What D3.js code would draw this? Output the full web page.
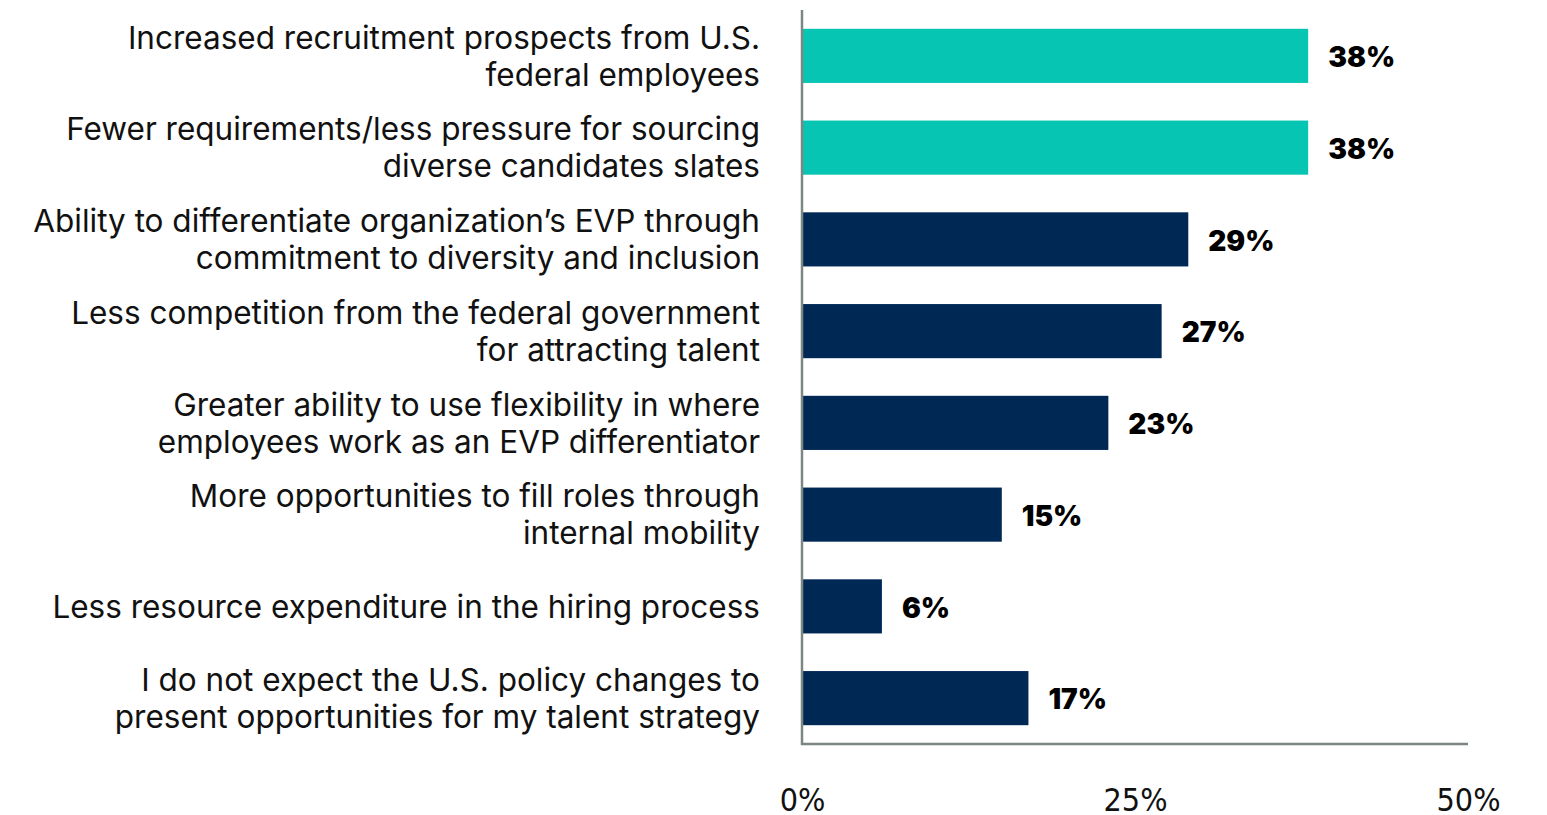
<!DOCTYPE html>
<html>
<head>
<meta charset="utf-8">
<script src="https://cdn.jsdelivr.net/npm/d3@7"></script>
<style>
  html, body { margin: 0; padding: 0; background: #fff; }
  svg { display: block; }
</style>
</head>
<body>
<svg id="chart" width="1547" height="815"></svg>
<script>
// Survey responses: expected talent-strategy opportunities
const categories = [
  ["Increased recruitment prospects from U.S.", "federal employees"],
  ["Fewer requirements/less pressure for sourcing", "diverse candidates slates"],
  ["Ability to differentiate organization\u2019s EVP through", "commitment to diversity and inclusion"],
  ["Less competition from the federal government", "for attracting talent"],
  ["Greater ability to use flexibility in where", "employees work as an EVP differentiator"],
  ["More opportunities to fill roles through", "internal mobility"],
  ["Less resource expenditure in the hiring process"],
  ["I do not expect the U.S. policy changes to", "present opportunities for my talent strategy"]
];
const values = [38, 38, 29, 27, 23, 15, 6, 17];
const highlighted = [true, true, false, false, false, false, false, false];
const tickValues = [0, 25, 50];

const svg = d3.select("#chart");
const plotLeft = 802, plotRight = 1468, plotTop = 10, plotBottom = 744;

const x = d3.scaleLinear().domain([0, 50]).range([plotLeft, plotRight]);
const y = d3.scaleBand()
  .domain(d3.range(categories.length))
  .range([plotTop, plotBottom])
  .paddingInner(0.41)
  .paddingOuter(0.205);

// bars
svg.append("g").selectAll("rect")
  .data(values)
  .join("rect")
  .attr("x", x(0))
  .attr("y", (d, i) => y(i))
  .attr("width", d => x(d) - x(0))
  .attr("height", y.bandwidth())
  .attr("fill", (d, i) => highlighted[i] ? "#06C5B3" : "#002855");

// value labels
svg.append("g").selectAll("text")
  .data(values)
  .join("text")
  .attr("x", d => x(d) + 20)
  .attr("y", (d, i) => y(i) + y.bandwidth() / 2)
  .attr("dy", "0.4em")
  .attr("font-family", "Inter, sans-serif")
  .attr("font-weight", 900)
  .attr("font-size", 28)
  .attr("fill", "#000")
  .text(d => d + "%");

// category labels (one tspan per line, right-aligned)
const lineH = 37;
svg.append("g").selectAll("text")
  .data(categories)
  .join("text")
  .attr("text-anchor", "end")
  .attr("font-family", "Inter, sans-serif")
  .attr("font-size", 31.5)
  .attr("fill", "#111")
  .each(function(d, i) {
    const t = d3.select(this);
    const y0 = y(i) + y.bandwidth() / 2 - (d.length - 1) * lineH / 2;
    d.forEach((line, k) => {
      t.append("tspan")
        .attr("x", 760)
        .attr("y", y0 + k * lineH)
        .attr("dy", "0.36em")
        .text(line);
    });
  });

// axes
const axisColor = "#7d8683";
svg.append("line")
  .attr("x1", plotLeft).attr("x2", plotLeft)
  .attr("y1", plotTop).attr("y2", plotBottom + 1)
  .attr("stroke", axisColor).attr("stroke-width", 2.5);
svg.append("line")
  .attr("x1", plotLeft - 1).attr("x2", plotRight)
  .attr("y1", plotBottom).attr("y2", plotBottom)
  .attr("stroke", axisColor).attr("stroke-width", 2.5);

const xAxis = d3.axisBottom(x).tickValues(tickValues).tickSize(0).tickFormat(d => d + "%");
const gx = svg.append("g").attr("transform", `translate(0,${plotBottom})`).call(xAxis);
gx.select(".domain").remove();
gx.selectAll("text")
  .attr("y", 0)
  .attr("dy", "67")
  .attr("font-family", "'Liberation Sans Narrow', 'DejaVu Sans Condensed', sans-serif")
  .attr("font-size", 32)
  .attr("fill", "#111");
</script>
</body>
</html>
